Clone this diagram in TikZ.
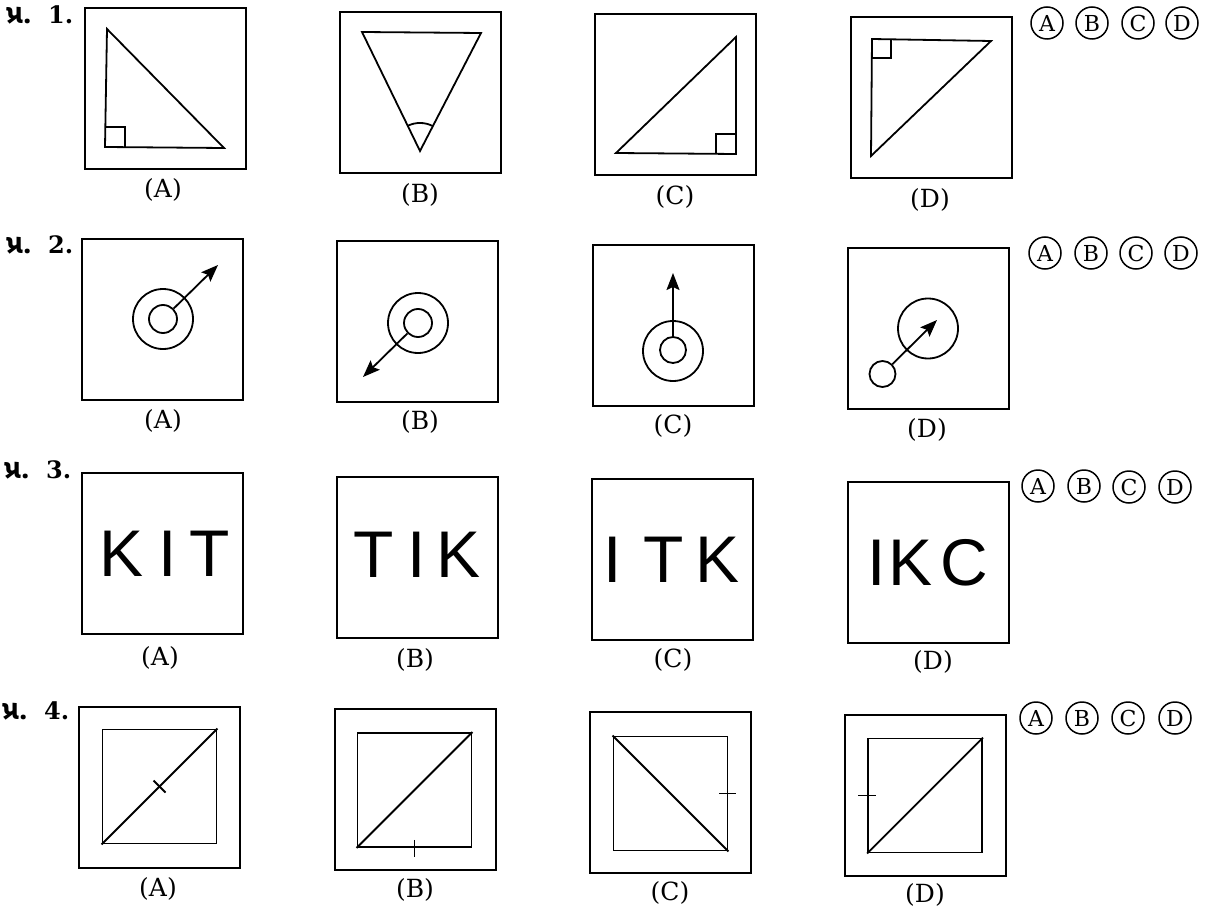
\documentclass[tikz,border=0pt]{standalone}
\usepackage{fontspec}
\setmainfont{DejaVu Serif}
\newfontfamily\gujfont[Script=Gujarati]{Noto Sans Gujarati UI}
\newfontfamily\bigsans{Liberation Sans}
\usetikzlibrary{arrows.meta}
\newcommand{\qlab}[1]{{\gujfont\bfseries\fontsize{27}{27}\selectfont\makebox[42pt][l]{પ્ર.}}{\bfseries\fontsize{24}{24}\selectfont #1}}
\begin{document}
\begin{tikzpicture}[x=1pt,y=-1pt,
  box/.style={draw, line width=2pt, inner sep=0pt, minimum size=161pt},
  inbox/.style={draw, line width=1.9pt, inner sep=0pt, minimum size=114pt},
  fig/.style={line width=1.8pt, line join=miter},
  lbl/.style={font=\fontsize{25}{25}\selectfont, inner sep=0pt},
  opt/.style={circle, draw, line width=1.5pt, minimum size=32pt, inner sep=0pt, font=\fontsize{22}{22}\selectfont},
  qn/.style={anchor=base west, inner sep=0pt},
  word/.style={font=\bigsans\fontsize{66}{66}\selectfont, inner sep=0pt},
  ring/.style={circle, draw, line width=1.8pt, inner sep=0pt},
  arr/.style={line width=1.8pt, -{Stealth[length=17pt,width=13pt,inset=3pt]}},
  tickmark/.style={line width=1.9pt}
]
\useasboundingbox (0,0) rectangle (1222,909);
\fill[white] (0,0) rectangle (1222,909);

% ---------------- Question 1 ----------------
\node[qn] (q1) at (6,24) {\qlab{1.}};
\node[box] (b1a) at (165.5,88.5) {};
\node[box] (b1b) at (420.5,92.5) {};
\node[box] (b1c) at (675.5,94.5) {};
\node[box] (b1d) at (931,98) {};
% A: right triangle, right angle bottom-left
\draw[fig] (107,29) -- (105,147) -- (224,148) -- cycle;
\draw[fig] (105,127) -- (125,127) -- (125,147);
% B: inverted triangle with angle arc
\draw[fig] (362,32) -- (481,33) -- (420,151) -- cycle;
\draw[fig] (407.7,125.8) arc[start angle=244, end angle=297, radius=28];
% C: right angle bottom-right
\draw[fig] (736,37) -- (616,153) -- (736,154) -- cycle;
\draw[fig] (716,154) -- (716,134) -- (736,134);
% D: right angle top-left
\draw[fig] (872,39) -- (871,156) -- (991,41) -- cycle;
\draw[fig] (872,58) -- (891,58) -- (891,39);
\node[lbl] (l1a) at (163,190) {(A)};
\node[lbl] (l1b) at (420,195) {(B)};
\node[lbl] (l1c) at (675,197) {(C)};
\node[lbl] (l1d) at (930,200) {(D)};
\node[opt] (o1a) at (1047,23) {A};
\node[opt] (o1b) at (1092,23) {B};
\node[opt] (o1c) at (1138,23) {C};
\node[opt] (o1d) at (1182,23) {D};

% ---------------- Question 2 ----------------
\node[qn] (q2) at (6,253) {\qlab{2.}};
\node[box] (b2a) at (162.5,319.5) {};
\node[box] (b2b) at (417.5,321.5) {};
\node[box] (b2c) at (673.5,325.5) {};
\node[box] (b2d) at (928,328) {};
% A
\node[ring, minimum size=60pt] (a2o) at (163,319) {};
\node[ring, minimum size=28pt] (a2i) at (163,319) {};
\coordinate (a2t) at (218,265);
\draw[arr] (a2i) -- (a2t);
% B
\node[ring, minimum size=60pt] (b2o) at (418,323) {};
\node[ring, minimum size=28pt] (b2i) at (418,323) {};
\coordinate (b2t) at (363,377);
\draw[arr] (b2i) -- (b2t);
% C
\node[ring, minimum size=60pt] (c2o) at (673,351) {};
\node[ring, minimum size=26pt] (c2i) at (673,350) {};
\coordinate (c2t) at (673,273);
\draw[arr] (c2i) -- (c2t);
% D
\node[ring, minimum size=60pt] (d2o) at (928,328.5) {};
\node[ring, minimum size=26pt] (d2i) at (882.5,374) {};
\coordinate (d2t) at (937,320);
\draw[arr] (d2i) -- (d2t);
\node[lbl] (l2a) at (163,421) {(A)};
\node[lbl] (l2b) at (420,422) {(B)};
\node[lbl] (l2c) at (673,426) {(C)};
\node[lbl] (l2d) at (927,430) {(D)};
\node[opt] (o2a) at (1045,253) {A};
\node[opt] (o2b) at (1091,253) {B};
\node[opt] (o2c) at (1136,253) {C};
\node[opt] (o2d) at (1181,253) {D};

% ---------------- Question 3 ----------------
\node[qn] (q3) at (4,478) {\qlab{3.}};
\node[box] (b3a) at (162,553) {};
\node[box] (b3b) at (417.5,557) {};
\node[box] (b3c) at (672.5,559) {};
\node[box] (b3d) at (928,562) {};
\node[word] (w3a) at (164.5,553.5) {K\kern15pt I\kern12pt T};
\node[word] (w3b) at (417,555) {T\kern14pt I\kern10pt K};
\node[word] (w3c) at (671.5,559.5) {I\kern22pt T\kern11pt K};
\node[word] (w3d) at (928,563) {I\kern3pt K\kern8pt C};
\node[lbl] (l3a) at (160,658) {(A)};
\node[lbl] (l3b) at (415,660) {(B)};
\node[lbl] (l3c) at (673,660) {(C)};
\node[lbl] (l3d) at (933,662) {(D)};
\node[opt] (o3a) at (1038,486) {A};
\node[opt] (o3b) at (1084,486) {B};
\node[opt] (o3c) at (1129,487) {C};
\node[opt] (o3d) at (1175,487) {D};

% ---------------- Question 4 ----------------
\node[qn] (q4) at (2,719) {\qlab{4.}};
\node[box] (b4a) at (159.5,787) {};
\node[box] (b4b) at (415.5,789.5) {};
\node[box] (b4c) at (670.5,792.5) {};
\node[box] (b4d) at (925,795) {};
\node[inbox] (i4a) at (159.5,786.5) {};
\node[inbox] (i4b) at (414.5,790) {};
\node[inbox] (i4c) at (670.5,793.5) {};
\node[inbox] (i4d) at (925,795.5) {};
\draw[fig] (i4a.south west) -- (i4a.north east);
\draw[tickmark] ([shift={(-6,-6)}]i4a.center) -- ([shift={(6,6)}]i4a.center);
\draw[fig] (i4b.south west) -- (i4b.north east);
\draw[tickmark] ([shift={(0,-8)}]i4b.south) -- ([shift={(0,9)}]i4b.south);
\draw[fig] (i4c.north west) -- (i4c.south east);
\draw[tickmark] ([shift={(-9,0)}]i4c.east) -- ([shift={(8,0)}]i4c.east);
\draw[fig] (i4d.south west) -- (i4d.north east);
\draw[tickmark] ([shift={(-9,0)}]i4d.west) -- ([shift={(9,0)}]i4d.west);
\node[lbl] (l4a) at (158,889) {(A)};
\node[lbl] (l4b) at (415,890) {(B)};
\node[lbl] (l4c) at (670,893) {(C)};
\node[lbl] (l4d) at (925,895) {(D)};
\node[opt] (o4a) at (1036,718) {A};
\node[opt] (o4b) at (1082,718) {B};
\node[opt] (o4c) at (1128,718) {C};
\node[opt] (o4d) at (1175,718) {D};
\end{tikzpicture}
\end{document}
